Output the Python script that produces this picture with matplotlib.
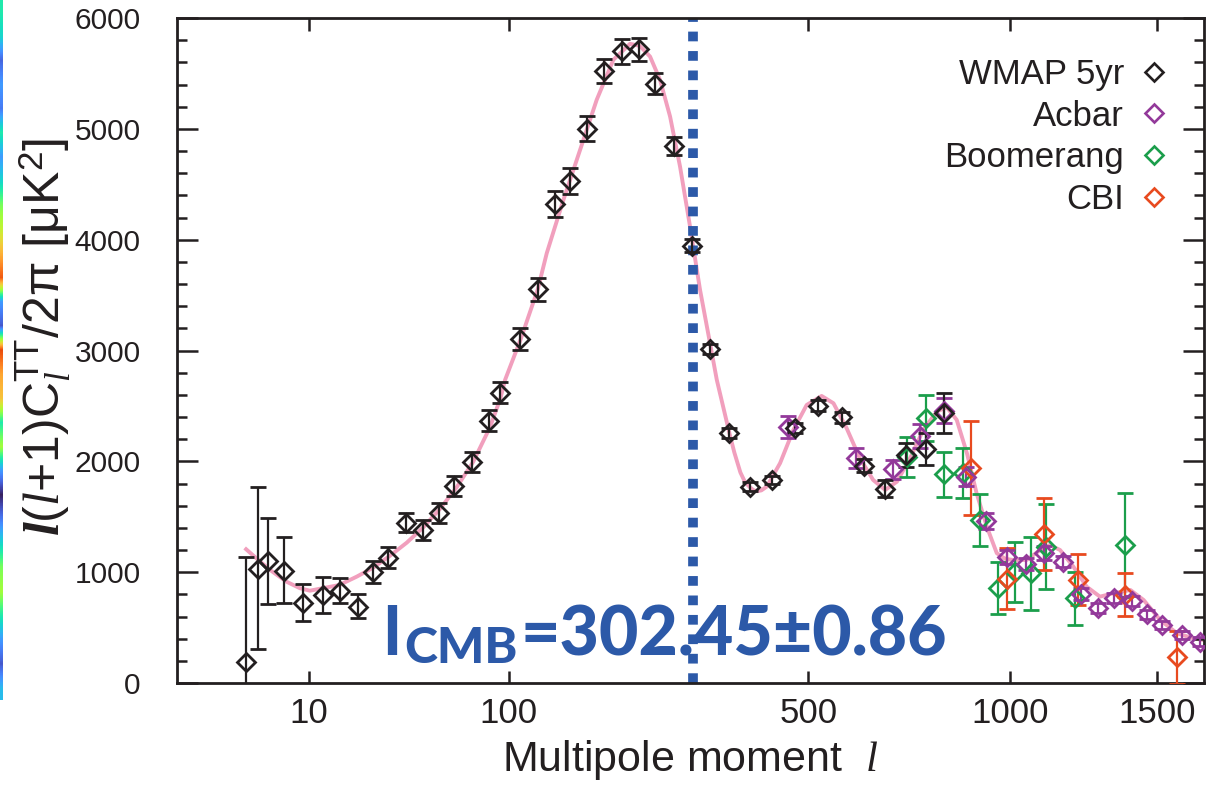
import numpy as np
import matplotlib
matplotlib.use("Agg")
import matplotlib.pyplot as plt
from matplotlib.lines import Line2D

plt.rcParams['mathtext.fontset'] = 'custom'
plt.rcParams['mathtext.rm'] = 'Liberation Sans'
plt.rcParams['mathtext.it'] = 'Liberation Serif:italic'
plt.rcParams['mathtext.bf'] = 'Liberation Serif:italic:bold'

# WMAP 5yr band powers: multipole, D_l, lower / upper error
wmap_l = [2, 3, 4, 6, 9, 13, 17, 22, 27, 32.5, 39.6, 47.6, 55.4, 64, 75, 86, 94,
          109, 123.5, 138.5, 153, 170, 188, 208, 229, 250, 274.5, 300, 327.5,
          358, 392, 431, 473, 520, 569, 617.5, 666.5, 715, 765, 814]
wmap_d = [190, 1030, 1100, 1013, 725, 794, 833, 689, 1005, 1131, 1447, 1381, 1537,
          1778, 1992, 2365, 2620, 3102, 3553, 4323, 4531, 5003, 5523, 5698, 5719,
          5406, 4847, 3947, 3012, 2254, 1772, 1832, 2299, 2500, 2398, 1961, 1754,
          2058, 2112, 2434]
wmap_lo = [260, 726, 387, 294, 165, 165, 114, 105, 105, 95, 86, 90, 90, 90, 90, 95,
           95, 100, 105, 115, 115, 110, 110, 110, 105, 95, 80, 60, 45, 45, 40, 40,
           45, 50, 50, 60, 75, 105, 143, 180]
wmap_hi = [944, 736, 392, 302, 166, 165, 117, 114, 99, 95, 86, 90, 90, 90, 90, 95,
           95, 100, 105, 115, 115, 110, 110, 110, 105, 95, 80, 60, 45, 45, 40, 40,
           45, 50, 50, 60, 75, 105, 143, 180]

acbar_l = [461, 600, 685, 751, 814, 873, 929, 990, 1048, 1104, 1167, 1226, 1285,
           1342, 1405, 1460, 1518, 1596, 1670]
acbar_d = [2308, 2028, 1929, 2229, 2458, 1862, 1465, 1140, 1074, 1176, 1095, 803,
           677, 767, 737, 620, 523, 433, 373]
acbar_e = [98, 90, 87, 105, 113, 86, 72, 63, 54, 63, 50, 50, 45, 45, 45, 40, 40,
           40, 40]

boom_l = [718, 765, 814, 865, 912, 963, 1013, 1063, 1110, 1206, 1381]
boom_d = [2040, 2389, 1884, 1893, 1471, 855, 1005, 990, 1230, 764, 1245]
boom_e = [180, 206, 203, 226, 233, 236, 271, 328, 384, 241, 466]

cbi_l = [886, 991, 1104, 1217, 1381, 1576]
cbi_d = [1938, 939, 1342, 930, 797, 232]
cbi_e = [425, 275, 323, 230, 196, 240]

# best-fit LCDM spectrum
model_l = [2, 3, 4.2, 6.3, 8.4, 10.2, 16.8, 21.7, 27, 33, 40, 47.6, 56, 65.4, 75.5,
           86.6, 94, 97.4, 109.4, 123.5, 131.3, 146.6, 162.9, 180.2, 198.6, 218,
           230, 243, 256, 269.5, 283.3, 297.6, 312.3, 327.4, 337.9, 358, 366, 376,
           384, 392.4, 398, 404, 412, 421.6, 445.7, 470.7, 496.6, 526.5, 551, 579,
           608, 638, 666, 694, 726, 759, 794, 820, 847, 875, 902, 931, 960, 985,
           1009, 1050, 1092, 1123, 1156, 1200, 1245, 1291, 1339, 1400, 1449, 1512,
           1577, 1643, 1690]
model_d = [1207, 1110, 1020, 914, 855, 833, 884, 960, 1041, 1146, 1266, 1405, 1570,
           1766, 1997, 2308, 2569, 2735, 3102, 3553, 3878, 4359, 4810, 5262, 5623,
           5767, 5749, 5652, 5442, 5111, 4660, 4118, 3547, 3066, 2735, 2254, 2080,
           1900, 1810, 1765, 1740, 1730, 1738, 1772, 1983, 2283, 2509, 2590, 2524,
           2299, 2028, 1832, 1742, 1817, 2028, 2283, 2449, 2488, 2374, 2073, 1712,
           1411, 1171, 1120, 1110, 1110, 1200, 1245, 1200, 1050, 869, 779, 810, 839,
           749, 569, 449, 403, 385]

l_cmb = 302.45

# colour strip of the sky map along the left edge
strip = [0.35, 0.3, 0.12, 0.2, 0.15, 0.35, 0.2, 0.3, 0.45, 0.55, 0.68, 0.8, 0.2,
         0.1, 0.82, 0.7, 0.65, 0.35, 0.5, 0.2, 0.02, 0.15, 0.3, 0.45, 0.5, 0.35,
         0.2, 0.1, 0.25]

black = '#231f20'
purple = '#93399a'
green = '#1b9e4b'
red = '#e84a1f'
pink = '#f19fbd'
blue = '#2c59a8'


def fwd(x):
    x = np.asarray(x, dtype=float)
    return np.sign(x) * np.abs(x) ** 0.4


def inv(u):
    u = np.asarray(u, dtype=float)
    return np.sign(u) * np.abs(u) ** 2.5


W, H = 1214, 789
fig = plt.figure(figsize=(W / 100, H / 100), dpi=100)
ax = fig.add_axes([176.7 / W, (H - 683) / H, (1204 - 176.7) / W, (683 - 18) / H])

sax = fig.add_axes([0, (H - 700) / H, 3 / W, 700 / H])
sax.imshow(np.array(strip)[:, None], aspect='auto', cmap='turbo', vmin=0, vmax=1,
           interpolation='bilinear')
sax.axis('off')

ax.set_xscale('function', functions=(fwd, inv))
ax.set_xlim(0, 1686)
ax.set_ylim(0, 6000)

ax.plot(model_l, model_d, color=pink, lw=2.8, zorder=1, solid_joinstyle='round')
ax.axvline(l_cmb, color=blue, lw=7, dashes=(1, 1), zorder=2)

ebar = dict(fmt='D', ms=9, mfc='none', mew=2.0, elinewidth=1.6, capsize=6,
            capthick=1.8, zorder=3)
ax.errorbar(boom_l, boom_d, yerr=boom_e, color=green, **ebar)
ax.errorbar(cbi_l, cbi_d, yerr=cbi_e, color=red, **ebar)
ax.errorbar(acbar_l, acbar_d, yerr=acbar_e, color=purple, **ebar)
ax.errorbar(wmap_l, wmap_d, yerr=[wmap_lo, wmap_hi], color=black, **ebar)

ax.set_xticks([10, 100, 500, 1000, 1500])
ax.set_xticklabels(['10', '100', '500', '1000', '1500'])
ax.set_yticks(np.arange(0, 6001, 1000))
ax.set_yticks(np.arange(0, 6001, 200), minor=True)
ax.xaxis.set_minor_locator(matplotlib.ticker.NullLocator())
ax.tick_params(axis='both', which='both', direction='in', top=True, right=True,
               width=1.8, color=black)
ax.tick_params(axis='x', which='major', length=9, pad=10)
ax.tick_params(axis='y', which='major', length=15, pad=26)
ax.tick_params(axis='y', which='minor', length=7.5)
for lab in ax.get_yticklabels():
    lab.set_fontfamily('Liberation Sans')
    lab.set_fontsize(21.5)
    lab.set_color(black)
for lab in ax.get_xticklabels():
    lab.set_fontfamily('Liberation Sans')
    lab.set_fontsize(25)
    lab.set_color(black)
for s in ax.spines.values():
    s.set_linewidth(2)
    s.set_color(black)

ax.set_xlabel(r'Multipole moment  $\mathit{l}$', fontsize=31, color=black,
              family='Liberation Sans', labelpad=6)
ax.set_ylabel(r'$\mathbf{l}(\mathit{l}$+1)C$_{\mathit{l}}^{\mathrm{TT}}$/2π [μK$^{2}$]',
              fontsize=36, color=black, family='Liberation Sans')
ax.yaxis.set_label_coords(-0.101, 0.52)

handles = [Line2D([], [], ls='none', marker='D', ms=9, mfc='none', mew=1.9, color=c)
           for c in (black, purple, green, red)]
leg = ax.legend(handles, ['WMAP 5yr', 'Acbar', 'Boomerang', 'CBI'], loc='upper right',
                markerfirst=False, frameon=False, handlelength=0.6,
                handletextpad=0.55, labelspacing=0.25, borderpad=0,
                borderaxespad=1.15, prop={'family': 'Liberation Sans', 'size': 25})
for t in leg.get_texts():
    t.set_color(black)

# l_CMB annotation built from pieces so the subscript sits in small caps
tkw = dict(color=blue, family=['Lato', 'DejaVu Sans'], fontweight='black')
t1 = ax.text(0.2008, 0.024, 'l', transform=ax.transAxes, fontsize=48, va='bottom', **tkw)
t2 = ax.annotate('CMB', xy=(1, 0), xycoords=t1, xytext=(3, -3),
                 textcoords='offset points', fontsize=36, va='bottom', **tkw)
t3 = ax.annotate('=302.45±0.86', xy=(1, 0), xycoords=t2, xytext=(2, 3),
                 textcoords='offset points', fontsize=49, va='bottom', **tkw)

fig.savefig('out.png', dpi=100)
